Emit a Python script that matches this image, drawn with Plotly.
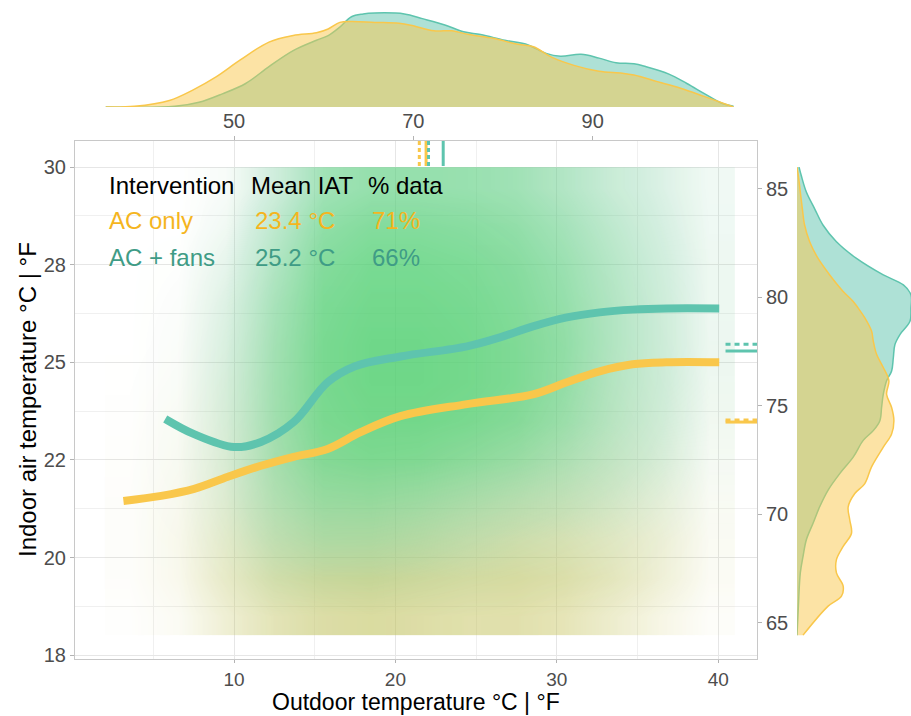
import plotly.graph_objects as go

# ---------------- data (°C unless noted) ----------------
groups = ["AC only", "AC + fans"]
line_col = {"AC only": "#F9C74B", "AC + fans": "#5EC4AE"}
text_col = {"AC only": "#F5B51E", "AC + fans": "#3F9C86"}

# smoothed trend lines
ac_x = [3.15, 5.49, 7.53, 9.63, 11.67, 13.70, 15.80, 17.84, 20.31, 24.44, 28.52, 30.62, 32.65, 34.69, 36.79, 40.06]
ac_y = [21.45, 21.58, 21.76, 22.07, 22.35, 22.58, 22.78, 23.21, 23.62, 23.93, 24.18, 24.49, 24.77, 24.95, 25.00, 25.00]
fan_x = [5.74, 7.53, 10.0, 11.67, 13.70, 15.80, 17.50, 20.31, 24.44, 26.48, 28.52, 30.62, 32.65, 34.69, 36.79, 40.06]
fan_y = [23.55, 23.16, 22.83, 22.96, 23.47, 24.49, 24.90, 25.15, 25.41, 25.64, 25.92, 26.15, 26.28, 26.35, 26.38, 26.38]

# outdoor temperature summary (top marks): mean (solid), median (dashed)
out_mean = {"AC only": 21.90, "AC + fans": 22.96}
out_median = {"AC only": 21.48, "AC + fans": 22.05}
# indoor temperature summary (right marks)
in_mean = {"AC only": 23.47, "AC + fans": 25.29}
in_median = {"AC only": 23.52, "AC + fans": 25.46}

# point cloud density, cells: x centres / y centres
cloud_x = [3.5, 6.5, 9.5, 12.5, 15.5, 18.5, 21.5, 24.5, 27.5, 30.5, 33.5, 36.5, 39.5]
cloud_y = [18.5, 19.5, 20.5, 21.5, 22.5, 23.5, 24.5, 25.5, 26.5, 27.5, 28.5, 29.5]
cloud_fans = [
    [0, 0, 0.02, 0.05, 0.06, 0.06, 0.05, 0.04, 0.03, 0.02, 0.02, 0, 0],
    [0, 0, 0.06, 0.18, 0.22, 0.22, 0.18, 0.14, 0.10, 0.08, 0.06, 0.03, 0],
    [0, 0.01, 0.12, 0.35, 0.50, 0.50, 0.42, 0.32, 0.22, 0.16, 0.12, 0.06, 0.01],
    [0, 0.02, 0.18, 0.50, 0.70, 0.72, 0.66, 0.56, 0.45, 0.35, 0.25, 0.14, 0.03],
    [0, 0.03, 0.22, 0.60, 0.85, 0.90, 0.88, 0.80, 0.70, 0.55, 0.38, 0.24, 0.06],
    [0, 0.03, 0.25, 0.65, 0.92, 0.97, 0.97, 0.93, 0.85, 0.70, 0.48, 0.30, 0.09],
    [0, 0.03, 0.26, 0.66, 0.94, 1.0, 1.0, 0.97, 0.90, 0.76, 0.52, 0.33, 0.11],
    [0, 0.03, 0.25, 0.65, 0.94, 1.0, 1.0, 0.97, 0.90, 0.78, 0.55, 0.34, 0.12],
    [0, 0.02, 0.22, 0.62, 0.92, 0.98, 0.98, 0.95, 0.88, 0.76, 0.55, 0.34, 0.12],
    [0, 0.01, 0.17, 0.56, 0.88, 0.95, 0.95, 0.92, 0.85, 0.72, 0.52, 0.32, 0.12],
    [0, 0, 0.10, 0.46, 0.80, 0.88, 0.88, 0.85, 0.78, 0.65, 0.46, 0.28, 0.11],
    [0, 0, 0.05, 0.32, 0.68, 0.76, 0.76, 0.74, 0.68, 0.55, 0.38, 0.24, 0.10],
]
cloud_ac = [
    [0.02, 0.10, 0.35, 0.60, 0.75, 0.80, 0.75, 0.70, 0.70, 0.60, 0.40, 0.22, 0.05],
    [0.04, 0.16, 0.45, 0.70, 0.85, 0.90, 0.85, 0.80, 0.80, 0.72, 0.55, 0.32, 0.10],
    [0.04, 0.16, 0.40, 0.58, 0.68, 0.72, 0.72, 0.68, 0.68, 0.62, 0.48, 0.32, 0.10],
    [0.04, 0.13, 0.32, 0.45, 0.52, 0.55, 0.55, 0.55, 0.55, 0.50, 0.38, 0.26, 0.08],
    [0.03, 0.10, 0.26, 0.38, 0.42, 0.42, 0.42, 0.42, 0.42, 0.38, 0.32, 0.20, 0.06],
    [0.02, 0.08, 0.20, 0.30, 0.35, 0.35, 0.35, 0.35, 0.35, 0.30, 0.25, 0.15, 0.06],
    [0.01, 0.05, 0.15, 0.25, 0.30, 0.30, 0.30, 0.30, 0.30, 0.25, 0.20, 0.12, 0.05],
    [0, 0.03, 0.10, 0.20, 0.25, 0.25, 0.25, 0.25, 0.25, 0.20, 0.15, 0.10, 0.04],
    [0, 0.02, 0.08, 0.15, 0.20, 0.20, 0.20, 0.20, 0.20, 0.15, 0.12, 0.08, 0.03],
    [0, 0.01, 0.05, 0.10, 0.15, 0.15, 0.15, 0.15, 0.15, 0.12, 0.10, 0.06, 0.03],
    [0, 0, 0.03, 0.08, 0.10, 0.12, 0.12, 0.12, 0.12, 0.10, 0.08, 0.05, 0.02],
    [0, 0, 0.02, 0.05, 0.08, 0.10, 0.10, 0.10, 0.10, 0.08, 0.06, 0.04, 0.02],
]

# top marginal density (outdoor temperature, °F)
top_f_fans = [35.7, 43.4, 46.1, 48.7, 51.3, 53.9, 56.6, 59.2, 60.5, 61.8, 63.1, 64.4, 65.7, 69.0, 71.0, 73.6, 75.6,
              77.5, 80.2, 82.8, 84.8, 86.4, 88.7, 90.7, 92.6, 94.6, 95.9, 98.5, 100.5, 102.5, 104.4, 105.7]
top_d_fans = [0, 0.007, 0.05, 0.14, 0.25, 0.43, 0.60, 0.71, 0.76, 0.85, 0.96, 0.99, 1.0, 0.99, 0.94, 0.87, 0.80,
              0.77, 0.71, 0.66, 0.57, 0.54, 0.56, 0.52, 0.47, 0.46, 0.43, 0.35, 0.25, 0.14, 0.04, 0.007]
top_f_ac = [35.7, 38.9, 42.8, 45.4, 48.0, 50.7, 53.9, 56.6, 59.2, 60.5, 61.8, 63.1, 65.7, 68.4, 69.7, 72.3, 74.3,
            76.2, 78.9, 81.5, 83.4, 85.4, 88.0, 90.7, 93.3, 94.6, 97.2, 99.8, 102.5, 105.7]
top_d_ac = [0, 0.007, 0.07, 0.18, 0.32, 0.50, 0.69, 0.76, 0.79, 0.83, 0.90, 0.91, 0.90, 0.89, 0.87, 0.81, 0.81,
            0.77, 0.73, 0.67, 0.64, 0.53, 0.44, 0.38, 0.36, 0.34, 0.27, 0.20, 0.11, 0.0]

# right marginal density (indoor temperature, °F)
right_f_fans = [86.0, 85.6, 84.85, 84.08, 83.32, 82.56, 81.79, 81.03, 80.57, 80.11, 79.50, 78.89, 78.28, 77.82,
                77.21, 76.60, 76.15, 75.53, 74.92, 74.31, 73.85, 73.40, 72.63, 71.87, 71.11, 70.34, 69.58, 68.82,
                68.05, 67.29, 65.76, 64.42]
right_d_fans = [0.018, 0.038, 0.082, 0.155, 0.229, 0.346, 0.522, 0.757, 0.933, 1.0, 1.0, 0.991, 0.903, 0.859,
                0.845, 0.830, 0.786, 0.757, 0.742, 0.727, 0.669, 0.581, 0.493, 0.375, 0.273, 0.199, 0.141, 0.082,
                0.053, 0.029, 0.012, 0.0]
right_f_ac = [86.0, 85.6, 84.85, 84.08, 83.32, 82.56, 81.79, 81.03, 80.27, 79.81, 79.50, 79.05, 78.44, 77.98, 77.37,
              76.76, 76.15, 75.53, 74.92, 74.31, 73.70, 73.09, 72.18, 71.41, 70.95, 70.34, 69.73, 69.12, 68.51,
              67.90, 67.29, 66.68, 66.22, 65.76, 64.42]
right_d_ac = [0.0, 0.012, 0.029, 0.047, 0.067, 0.111, 0.185, 0.287, 0.405, 0.493, 0.537, 0.595, 0.654, 0.669, 0.698,
              0.757, 0.806, 0.786, 0.830, 0.850, 0.830, 0.757, 0.654, 0.595, 0.507, 0.449, 0.463, 0.478, 0.405,
              0.346, 0.346, 0.405, 0.390, 0.273, 0.053]

# axes
x_range_c = [0.15, 42.4]
y_range_c = [17.40, 30.67]
x_ticks_c = [10, 20, 30, 40]
y_ticks_c = [17.5, 20, 22.5, 25, 27.5, 30]
y_ticktext = ["18", "20", "22", "25", "28", "30"]
x_ticks_f = [50, 70, 90]
y_ticks_f = [65, 70, 75, 80, 85]

legend_header = ["Intervention", "Mean IAT", "% data"]
legend_rows = {"AC only": ["AC only", "23.4 °C", "71%"], "AC + fans": ["AC + fans", "25.2 °C", "66%"]}


def c2f(v):
    return v * 1.8 + 32


W, H = 911, 716
FONT = "Liberation Sans, Arial, Helvetica, sans-serif"
dom_x = [75 / W, 757 / W]
dom_y = [1 - 659 / H, 1 - 141 / H]

fig = go.Figure()

# point cloud as density layers
fig.add_trace(go.Heatmap(x=cloud_x, y=cloud_y, z=cloud_ac, zmin=0, zmax=1, zsmooth="best", showscale=False,
                         colorscale=[[0, "rgba(205,200,105,0)"], [0.4, "rgba(205,198,95,0.3)"],
                                     [1, "rgba(198,190,78,0.68)"]],
                         hoverinfo="skip", xaxis="x", yaxis="y"))
fig.add_trace(go.Heatmap(x=cloud_x, y=cloud_y, z=cloud_fans, zmin=0, zmax=1, zsmooth="best", showscale=False,
                         colorscale=[[0, "rgba(120,205,175,0)"], [0.3, "rgba(110,205,160,0.30)"],
                                     [1, "rgba(78,208,115,0.80)"]],
                         hoverinfo="skip", xaxis="x", yaxis="y"))

# trend lines
fig.add_trace(go.Scatter(x=fan_x, y=fan_y, mode="lines", line=dict(color=line_col["AC + fans"], width=8,
                         shape="spline", smoothing=1.0), xaxis="x", yaxis="y", hoverinfo="skip"))
fig.add_trace(go.Scatter(x=ac_x, y=ac_y, mode="lines", line=dict(color=line_col["AC only"], width=8,
                         shape="spline", smoothing=1.0), xaxis="x", yaxis="y", hoverinfo="skip"))

# summary marks
top_seg = [30.03, y_range_c[1]]
right_seg = [40.45, x_range_c[1]]
for g in groups:
    c = line_col[g]
    fig.add_trace(go.Scatter(x=[out_median[g]] * 2, y=top_seg, mode="lines",
                             line=dict(color=c, width=3, dash="4px,3px"), xaxis="x", yaxis="y", hoverinfo="skip"))
    fig.add_trace(go.Scatter(x=[out_mean[g]] * 2, y=top_seg, mode="lines",
                             line=dict(color=c, width=3), xaxis="x", yaxis="y", hoverinfo="skip"))
    fig.add_trace(go.Scatter(x=right_seg, y=[in_median[g]] * 2, mode="lines",
                             line=dict(color=c, width=3, dash="5px,4px"), xaxis="x", yaxis="y", hoverinfo="skip"))
    fig.add_trace(go.Scatter(x=right_seg, y=[in_mean[g]] * 2, mode="lines",
                             line=dict(color=c, width=3), xaxis="x", yaxis="y", hoverinfo="skip"))

# marginal densities
fig.add_trace(go.Scatter(x=top_f_fans, y=top_d_fans, mode="lines", fill="tozeroy",
                         line=dict(color=line_col["AC + fans"], width=1.5, shape="spline"),
                         fillcolor="rgba(94,196,174,0.5)", xaxis="x3", yaxis="y3", hoverinfo="skip"))
fig.add_trace(go.Scatter(x=top_f_ac, y=top_d_ac, mode="lines", fill="tozeroy",
                         line=dict(color=line_col["AC only"], width=1.5, shape="spline"),
                         fillcolor="rgba(249,199,75,0.5)", xaxis="x3", yaxis="y3", hoverinfo="skip"))
fig.add_trace(go.Scatter(x=right_d_fans, y=right_f_fans, mode="lines", fill="tozerox",
                         line=dict(color=line_col["AC + fans"], width=1.5, shape="spline"),
                         fillcolor="rgba(94,196,174,0.5)", xaxis="x4", yaxis="y4", hoverinfo="skip"))
fig.add_trace(go.Scatter(x=right_d_ac, y=right_f_ac, mode="lines", fill="tozerox",
                         line=dict(color=line_col["AC only"], width=1.5, shape="spline"),
                         fillcolor="rgba(249,199,75,0.5)", xaxis="x4", yaxis="y4", hoverinfo="skip"))

# dummy trace to activate secondary axes
fig.add_trace(go.Scatter(x=[c2f(x_range_c[0])], y=[c2f(y_range_c[0])], mode="markers", opacity=0,
                         xaxis="x2", yaxis="y2", hoverinfo="skip"))

tickfont = dict(family=FONT, size=20, color="#4D4D4D")
xtickfont = dict(family=FONT, size=19, color="#4D4D4D")
grid = "#E6E6E6"
fig.update_layout(
    width=W, height=H, margin=dict(l=0, r=0, t=0, b=0), showlegend=False,
    paper_bgcolor="white", plot_bgcolor="white",
    xaxis=dict(domain=dom_x, range=x_range_c, tickvals=x_ticks_c, ticks="outside", ticklen=3,
               tickcolor="#B3B3B3", tickfont=xtickfont, showgrid=True, gridcolor=grid, gridwidth=1,
               minor=dict(tick0=0, dtick=5, showgrid=True, gridcolor="#F0F0F0", gridwidth=1),
               showline=True, linecolor="#C8C8C8", linewidth=1, mirror=True, zeroline=False,
               anchor="y", automargin=False),
    yaxis=dict(domain=dom_y, range=y_range_c, tickvals=y_ticks_c, ticktext=y_ticktext, ticks="outside",
               ticklen=4, tickcolor="#B3B3B3", tickfont=tickfont, showgrid=True, gridcolor=grid, gridwidth=1,
               minor=dict(tick0=17.5, dtick=1.25, showgrid=True, gridcolor="#F0F0F0", gridwidth=1),
               showline=True, linecolor="#C8C8C8", linewidth=1, mirror=True, zeroline=False,
               anchor="x", automargin=False),
    xaxis2=dict(overlaying="x", side="top", anchor="y", range=[c2f(v) for v in x_range_c],
                tickvals=x_ticks_f, ticks="outside", ticklen=4, tickcolor="#B3B3B3", tickfont=tickfont,
                showgrid=False, zeroline=False, showline=False, automargin=False),
    yaxis2=dict(overlaying="y", side="right", anchor="x", range=[c2f(v) for v in y_range_c],
                tickvals=y_ticks_f, ticks="outside", ticklen=4, tickcolor="#B3B3B3", tickfont=tickfont,
                showgrid=False, zeroline=False, showline=False, automargin=False),
    xaxis3=dict(domain=dom_x, anchor="y3", range=[c2f(v) for v in x_range_c], visible=False),
    yaxis3=dict(domain=[1 - 107 / H, 1], anchor="x3", range=[0, 1.138], visible=False),
    xaxis4=dict(domain=[797 / W, 1], anchor="y4", range=[0, 1.0], visible=False),
    yaxis4=dict(domain=dom_y, anchor="x4", range=[c2f(v) for v in y_range_c], visible=False),
)

ann = []
ann.append(dict(text="Outdoor temperature °C | °F", xref="paper", yref="paper", x=(dom_x[0] + dom_x[1]) / 2,
                y=0, xanchor="center", yanchor="bottom", showarrow=False, borderpad=0,
                font=dict(family=FONT, size=23, color="black")))
ann.append(dict(text="Indoor air temperature °C | °F", xref="paper", yref="paper", x=27 / W,
                y=(dom_y[0] + dom_y[1]) / 2, xanchor="center", yanchor="middle", textangle=-90, showarrow=False,
                font=dict(family=FONT, size=24, color="black")))
col_x_head = [2.12, 10.93, 18.17]
col_x_val = [2.12, 11.2, 18.4]
row_y = [29.54, 28.64, 27.69]
for j, t in enumerate(legend_header):
    ann.append(dict(text=t, x=col_x_head[j], y=row_y[0], xref="x", yref="y", xanchor="left", yanchor="middle",
                    showarrow=False, font=dict(family=FONT, size=24, color="black")))
for i, g in enumerate(groups):
    for j, t in enumerate(legend_rows[g]):
        ann.append(dict(text=t, x=col_x_val[j], y=row_y[i + 1], xref="x", yref="y", xanchor="left",
                        yanchor="middle", showarrow=False, font=dict(family=FONT, size=24, color=text_col[g])))
fig.update_layout(annotations=ann)

fig.write_html("out.html", config={"displayModeBar": False},
               post_script="document.body.style.margin='0px';document.body.style.overflow='hidden';")
